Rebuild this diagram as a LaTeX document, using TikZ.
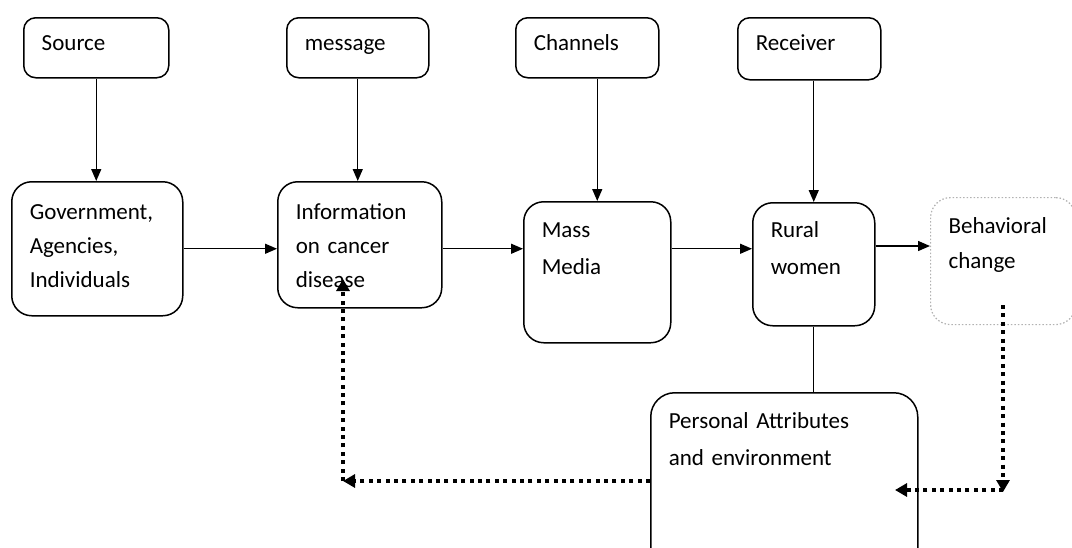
\documentclass[tikz,border=0pt]{standalone}
\usepackage{fontspec}
\setmainfont{Carlito}[WordSpace=0.75]
\usetikzlibrary{arrows.meta}

\tikzstyle{blk}=[%
	draw, line width=0.75pt, rounded corners=6pt,
	anchor=north west, align=left,
	inner xsep=9pt, inner ysep=0pt,
	font=\fontsize{11.5}{18.5}\selectfont
]
\tikzstyle{big}=[blk, rounded corners=10pt]
\tikzstyle{arr}=[line width=0.7pt, -{Triangle[length=6pt,width=5pt]}]
\tikzstyle{fb}=[line width=2pt, dash pattern=on 2pt off 2.2pt, -{Triangle[length=6pt,width=6.5pt]}]

\begin{document}
\begin{tikzpicture}[x=0.5pt, y=-0.5pt]
	\path[use as bounding box, clip] (0,0) rectangle (1072,547);

	% Top row
	\node[blk, text width=54.5pt, text height=16.5pt, text depth=13.5pt] (source) at (23,17) {Source};
	\node[blk, text width=53pt, text height=16.5pt, text depth=13.5pt] (message) at (286,17) {message};
	\node[blk, text width=53.5pt, text height=16.5pt, text depth=13.5pt] (channels) at (515,17) {Channels};
	\node[blk, text width=53.5pt, text height=16.5pt, text depth=14.5pt] (receiver) at (737,17) {Receiver};

	% Middle row
	\node[big, font=\fontsize{11.5}{17}\selectfont, text width=67.5pt, text height=19pt, text depth=48pt] (gov) at (11,181) {Government,\\Agencies,\\Individuals};
	\node[big, font=\fontsize{11.5}{17}\selectfont, text width=64pt, text height=19pt, text depth=44pt] (info) at (277,181) {Information\\on cancer\\disease};
	\node[big, text width=55.5pt, text height=18pt, text depth=52.5pt] (mass) at (523,201) {Mass\\Media};
	\node[big, text width=43pt, text height=17.5pt, text depth=44pt] (rural) at (752,202) {Rural\\women};
	\node[big, draw=gray!60, densely dotted, line width=0.6pt, font=\fontsize{11.5}{17.5}\selectfont, text width=54.5pt, text height=18pt, text depth=45.5pt] (behav) at (930,197) {Behavioral\\change};

	% Bottom
	\node[big, rounded corners=12pt, text width=115.5pt, text height=18pt, text depth=86pt] (pers) at (650,392) {Personal Attributes\\and environment};

	% Arrows
	\draw[arr] (source.south) -- (source.south |- gov.north);
	\draw[arr] (message.south) -- (message.south |- info.north);
	\draw[arr] (mass.north |- channels.south) -- (mass.north);
	\draw[arr] (rural.north |- receiver.south) -- (rural.north);
	\draw[arr] (gov.east) -- (gov.east -| info.west);
	\draw[arr] (gov.east -| info.east) -- (gov.east -| mass.west);
	\draw[arr] (gov.east -| mass.east) -- (gov.east -| rural.west);
	\draw[arr] (rural.east |- 0,246) -- (behav.west |- 0,246);
	\draw[line width=0.7pt] (rural.south) -- (rural.south |- pers.north);

	% Feedback
	\coordinate (cornerL) at (343,481);
	\coordinate (infoIn) at (343,279);
	\coordinate (behavIn) at (1003,305);
	\coordinate (cornerR) at (1003,492);
	\coordinate (persIn) at (895,490);
	\draw[fb] (pers.west |- cornerL) -- (cornerL);
	\draw[fb] (cornerL) -- (infoIn);
	\draw[fb] (behavIn) -- (cornerR);
	\draw[fb] (cornerR |- persIn) -- (persIn);

\end{tikzpicture}
\end{document}
